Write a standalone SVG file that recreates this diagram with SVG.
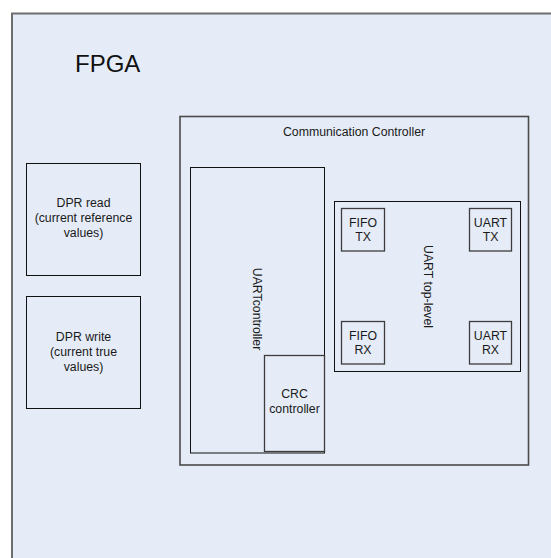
<svg xmlns="http://www.w3.org/2000/svg" width="551" height="558" viewBox="0 0 551 558">
  <style>
    .area { fill: #E5ECF7; }
    .outer { fill: none; stroke: #6e6e6e; stroke-width: 2; }
    .frame { fill: none; stroke: #4a4a4a; stroke-width: 1.6; }
    .box { fill: none; stroke: #111111; stroke-width: 1; }
    .small { fill: none; stroke: #3c3c3c; stroke-width: 1.3; }
    text { font-family: "Liberation Sans", Arial, sans-serif; fill: #1a1a1a; }
    .lbl { font-size: 12.3px; text-anchor: middle; }
    .title { font-size: 24px; fill: #111111; }
  </style>

  <rect x="0" y="0" width="551" height="558" fill="#ffffff"/>

  <!-- FPGA device boundary -->
  <g id="fpga">
    <rect class="area" x="12" y="13" width="560" height="560"/>
    <rect class="outer" x="12" y="13.5" width="560" height="560"/>
    <text class="title" x="75" y="72">FPGA</text>
  </g>

  <!-- Dual-port RAM blocks -->
  <g id="dpr-read">
    <rect class="box" x="26.5" y="163.5" width="114" height="112"/>
    <text class="lbl" x="83.5" y="207">DPR read</text>
    <text class="lbl" x="83.5" y="222">(current reference</text>
    <text class="lbl" x="83.5" y="237">values)</text>
  </g>

  <g id="dpr-write">
    <rect class="box" x="26.5" y="296.5" width="114" height="112"/>
    <text class="lbl" x="83.5" y="340.5">DPR write</text>
    <text class="lbl" x="83.5" y="355.5">(current true</text>
    <text class="lbl" x="83.5" y="370.5">values)</text>
  </g>

  <!-- Communication controller container -->
  <g id="comm-controller">
    <rect class="frame" x="180" y="116.5" width="348.5" height="348.5"/>
    <text class="lbl" x="354" y="136">Communication Controller</text>
  </g>

  <g id="uart-controller">
    <rect class="box" x="190.5" y="167.5" width="134" height="285.5"/>
    <text class="lbl" transform="translate(253 309) rotate(90)">UARTcontroller</text>
  </g>

  <g id="crc-controller">
    <rect class="small" x="264.5" y="355.5" width="60" height="96"/>
    <text class="lbl" x="294.5" y="398">CRC</text>
    <text class="lbl" x="294.5" y="413">controller</text>
  </g>

  <g id="uart-top-level">
    <rect class="box" x="334.5" y="201.5" width="186" height="170"/>
    <text class="lbl" transform="translate(423.5 286.5) rotate(90)">UART top-level</text>
  </g>

  <g id="fifo-tx">
    <rect class="small" x="341.5" y="208.5" width="43" height="42.5"/>
    <text class="lbl" x="363" y="226.7">FIFO</text>
    <text class="lbl" x="363" y="240.7">TX</text>
  </g>

  <g id="uart-tx">
    <rect class="small" x="469.5" y="208.5" width="42" height="42.5"/>
    <text class="lbl" x="490.5" y="226.7">UART</text>
    <text class="lbl" x="490.5" y="240.7">TX</text>
  </g>

  <g id="fifo-rx">
    <rect class="small" x="341.5" y="321.5" width="43" height="42.5"/>
    <text class="lbl" x="363" y="340">FIFO</text>
    <text class="lbl" x="363" y="354">RX</text>
  </g>

  <g id="uart-rx">
    <rect class="small" x="469.5" y="321.5" width="42" height="42.5"/>
    <text class="lbl" x="490.5" y="340">UART</text>
    <text class="lbl" x="490.5" y="354">RX</text>
  </g>

  <!-- no connectors are drawn between the blocks -->
  <g id="connectors"/>
</svg>
